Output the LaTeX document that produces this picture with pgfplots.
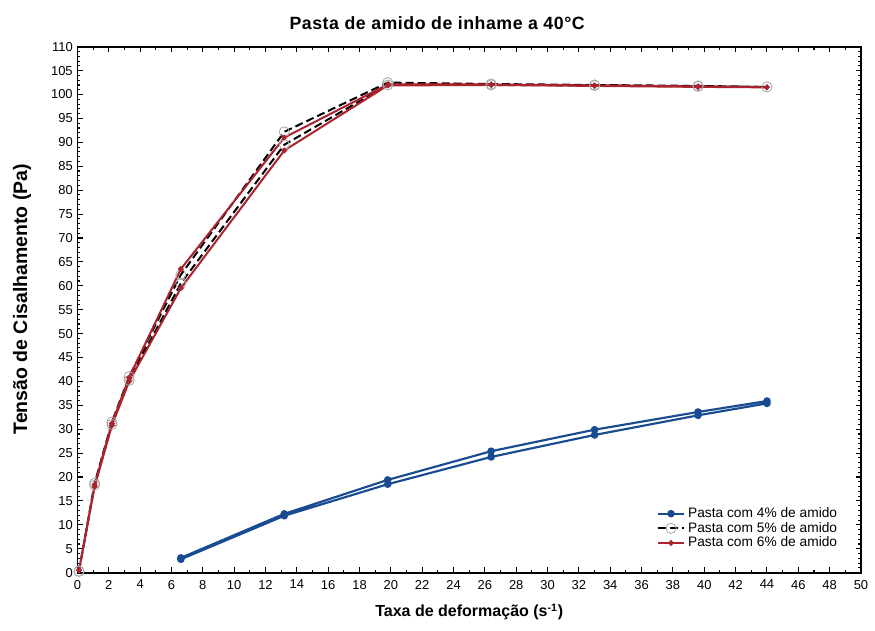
\documentclass[border=0pt]{standalone}
\usepackage{fontspec}
\setmainfont{Liberation Sans}
\usepackage{pgfplots}
\pgfplotsset{compat=1.18}
\definecolor{cblue}{RGB}{25,75,145}
\definecolor{cred}{RGB}{170,35,45}
\begin{document}
\begin{tikzpicture}
\path[use as bounding box] (-58pt,-43pt) rectangle (597.5pt,429pt);
\begin{axis}[
  at={(0,0)}, anchor=south west,
  scale only axis, width=587pt, height=394pt,
  xmin=0, xmax=50, ymin=0, ymax=110,
  xtick={0,2,...,50}, ytick={0,5,...,110},
  minor x tick num=1, minor y tick num=4,
  tick align=inside,
  major tick length=4pt, minor tick length=2.2pt,
  every tick/.style={black, line width=0.8pt},
  axis line style={line width=1.3pt},
  /pgf/number format/assume math mode=true,
  ticklabel style={font=\fontsize{9.7}{11}\selectfont},
  xticklabel style={yshift=-2pt},
  title={\addfontfeatures{LetterSpace=3}\bfseries Pasta de amido de inhame a 40°C},
  title style={font=\fontsize{13.3}{15}\selectfont, yshift=3pt, xshift=-24pt},
  xlabel={\bfseries Taxa de deformação (s\textsuperscript{-1})},
  ylabel={\bfseries Tensão de Cisalhamento (Pa)},
  xlabel style={font=\fontsize{12}{14}\selectfont, yshift=-4pt},
  ylabel style={font=\fontsize{14.6}{16}\selectfont, at={(ticklabel cs:0.52)}, yshift=8pt},
  legend style={at={(0.975,0.037)}, anchor=south east, draw=none, fill=none,
    font=\fontsize{10.3}{11.5}\selectfont, row sep=-2pt,
    inner sep=1pt},
  legend cell align=left,
  legend image code/.code={
    \draw[#1] (0pt,0pt) -- (20pt,0pt);
    \draw[#1, solid] plot coordinates {(10pt,0pt)};
  },
]
\addplot[cblue, line width=1.6pt, mark=*, mark size=2pt, mark options={solid, fill=cblue}]
coordinates {
(6.6,3.1) (13.2,12.3) (19.8,19.4) (26.4,25.4) (33,29.9) (39.6,33.6) (44,35.9)
(44,35.4) (39.6,32.9) (33,28.8) (26.4,24.2) (19.8,18.5) (13.2,11.9) (6.6,2.8)
};
\addlegendentry{Pasta com 4\% de amido}
\addplot[black, line width=1.5pt, dash pattern=on 6pt off 3pt, mark=o, mark size=3.8pt, mark options={solid, draw=gray!70, line width=0.6pt, fill=none}]
coordinates {
(0.1,0.3) (1.1,18.7) (2.2,31.5) (3.3,41) (6.6,62.3) (13.2,92.2) (19.8,102.5) (26.4,102.2) (33,102.0) (39.6,101.8) (44,101.6)
(39.6,101.7) (33,101.9) (26.4,102.0) (19.8,102.0) (13.2,89.5) (6.6,60.5) (3.3,40.2) (2.2,31) (1.1,18.3) (0.1,0.3)
};
\addlegendentry{Pasta com 5\% de amido}
\addplot[cred, line width=1.5pt, mark=*, mark size=1.3pt, mark options={solid, fill=cred}]
coordinates {
(0.1,0.5) (1.1,18.4) (2.2,31.2) (3.3,40.8) (6.6,63.5) (13.2,91.0) (19.8,102.1) (26.4,102.1) (33,101.9) (39.6,101.7) (44,101.5)
(39.6,101.6) (33,101.8) (26.4,102.0) (19.8,101.9) (13.2,88.3) (6.6,59.5) (3.3,40) (2.2,30.8) (1.1,18) (0.1,0.5)
};
\addlegendentry{Pasta com 6\% de amido}
\end{axis}
\end{tikzpicture}
\end{document}
